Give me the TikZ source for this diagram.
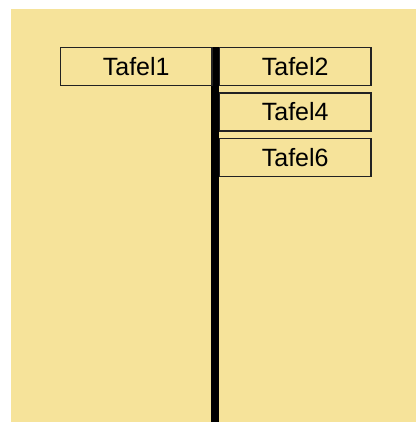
\documentclass[tikz,border=0pt]{standalone}
\usepackage{fontspec}
\setmainfont{Liberation Sans}
\definecolor{bg}{HTML}{F6E39A}
\definecolor{edge}{HTML}{222222}
\begin{document}
\begin{tikzpicture}[x=1pt,y=-1pt,
  tafel/.style={draw=edge,line width=1.4pt,minimum width=151.6pt,minimum height=38pt,inner sep=0pt,font=\fontsize{25}{25}\selectfont,anchor=north west}]
\useasboundingbox (0,0) rectangle (416,422);
\fill[bg] (11,9) rectangle (416,422);
\fill[black] (211,46.7) rectangle (219,422);
\node[tafel] (t1) at (59.7,47) {Tafel1};
\node[tafel] (t2) at (218.7,47) {Tafel2};
\node[tafel] (t4) at (218.7,92.3) {Tafel4};
\node[tafel] (t6) at (218.7,137.7) {Tafel6};
\end{tikzpicture}
\end{document}
